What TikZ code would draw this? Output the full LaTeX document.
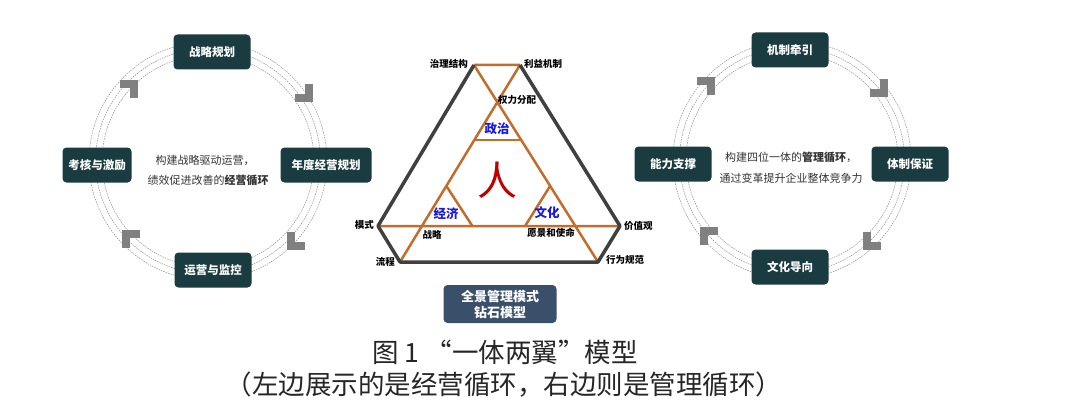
\documentclass[tikz,border=0pt]{standalone}
\usepackage{fontspec}
\setmainfont{Noto Sans CJK SC}
\usetikzlibrary{calc}

\definecolor{boxteal}{RGB}{26,59,63}
\definecolor{slate}{RGB}{58,80,106}
\definecolor{rust}{RGB}{196,108,42}
\definecolor{edge}{RGB}{64,64,64}
\definecolor{ringgray}{RGB}{140,140,140}
\definecolor{chevgray}{RGB}{128,128,128}
\definecolor{tagblue}{RGB}{24,24,224}
\definecolor{manred}{RGB}{192,0,0}

\begin{document}
\begin{tikzpicture}[x=1pt,y=-1pt,
	ring/.style={draw=ringgray,line width=0.5pt,dash pattern=on 1.5pt off 1pt},
	chev/.style={draw=chevgray,line width=7.5pt},
	cyclebox/.style={fill=boxteal,text=white,rounded corners=4pt,minimum width=77pt,minimum height=35pt,inner sep=3pt,font=\bfseries\fontsize{11.5}{13}\selectfont},
	midtext/.style={text=black!80,font=\fontsize{11}{13}\selectfont},
	vtx/.style={font=\bfseries\fontsize{9.5}{11}\selectfont,inner sep=1pt},
	field/.style={text=tagblue,font=\bfseries\fontsize{12.5}{14}\selectfont}]
		\useasboundingbox (0,0) rectangle (1080,420);
		% two rings
		\foreach \r in {106,112.5,119} {
			\draw[ring] (208,161) circle[radius=\r pt];
			\draw[ring] (792,160) circle[radius=\r pt];
		}
		\draw[chev] (309,84) -- (309,98) -- (295,98);
		\draw[chev] (291,232) -- (291,246) -- (305,246);
		\draw[chev] (140,234) -- (126,234) -- (126,248);
		\draw[chev] (120,84) -- (134,84) -- (134,98);
		\draw[chev] (884,79) -- (884,93) -- (870,93);
		\draw[chev] (867,232) -- (867,246) -- (881,246);
		\draw[chev] (718,231) -- (704,231) -- (704,245);
		\draw[chev] (697,81) -- (711,81) -- (711,95);
		% left: business cycle
		\node[cyclebox] (zlgh) at (212,52) {战略规划};
		\node[cyclebox,minimum width=91pt] (ndgh) at (326,165) {年度经营规划};
		\node[cyclebox,minimum width=69pt] (khjl) at (97,165) {考核与激励};
		\node[cyclebox] (yyjk) at (213,270) {运营与监控};
		\node[midtext] (jytxt1) at (205,160) {构建战略驱动运营，};
		\node[midtext] (jytxt2) at (208,180) {绩效促进改善的\textbf{经营循环}};
		% right: management cycle
		\node[cyclebox] (jzqy) at (790,50) {机制牵引};
		\node[cyclebox] (tzbz) at (910,164) {体制保证};
		\node[cyclebox] (nlzc) at (673,164) {能力支撑};
		\node[cyclebox] (whdx) at (790,267) {文化导向};
		\node[midtext] (gltxt1) at (791,157) {构建四位一体的\textbf{管理循环}，};
		\node[midtext] (gltxt2) at (791,178) {通过变革提升企业整体竞争力};
		% diamond model
		\coordinate (tl) at (474,65);
		\coordinate (tr) at (520,65);
		\coordinate (mr) at (620,226);
		\coordinate (br) at (598,262);
		\coordinate (bl) at (400,262);
		\coordinate (ml) at (378,226);
		\coordinate (jj) at ($(tr)!0.614!(bl)$);
		\coordinate (wh) at ($(tl)!0.614!(br)$);
		\draw[rust,line width=2.5pt] (tl) -- (tr) (tl) -- (br) (tr) -- (bl) (ml) -- (mr);
		\draw[rust,line width=2.5pt] ($(tr)!0.381!(bl)$) -- ($(tl)!0.381!(br)$);
		\draw[rust,line width=2.5pt] (jj) -- ++(26,40) (wh) -- ++(-25,40);
		\draw[edge,line width=3.5pt,line join=round] (tr) -- (mr) -- (br) -- (bl) -- (ml) -- (tl);
		\node[vtx,anchor=east] (zljg) at (469,64) {治理结构};
		\node[vtx,anchor=west] (lyjz) at (523,64) {利益机制};
		\node[vtx,anchor=west] (qlfp) at (497,100) {权力分配};
		\node[vtx,anchor=east] (ms) at (375,225) {模式};
		\node[vtx,anchor=west] (jzg) at (623,226) {价值观};
		\node[vtx] (zl) at (432,235) {战略};
		\node[vtx] (yjsm) at (551,233) {愿景和使命};
		\node[vtx,anchor=east] (lc) at (396,262) {流程};
		\node[vtx,anchor=west] (xwgf) at (605,260) {行为规范};
		\node[field] (zz) at (497,129) {政治};
		\node[field] (jjtag) at (446,214) {经济};
		\node[field] (whtag) at (547,213) {文化};
		\node[text=manred,font=\fontsize{40}{40}\selectfont] (ren) at (497,180) {人};
		\node[fill=slate,text=white,rounded corners=4pt,minimum width=113pt,minimum height=38pt,align=center,inner sep=2pt,font=\bfseries\fontsize{13}{16}\selectfont] (qjmx) at (500,304) {全景管理模式\\钻石模型};
		% caption
		\node[text=black!85,font=\fontsize{26.5}{28}\selectfont] (cap1) at (505,352) {图 1 “一体两翼”模型};
		\node[text=black!85,font=\fontsize{26.5}{28}\selectfont] (cap2) at (504,385) {（左边展示的是经营循环，右边则是管理循环）};
	\end{tikzpicture}
\end{document}
